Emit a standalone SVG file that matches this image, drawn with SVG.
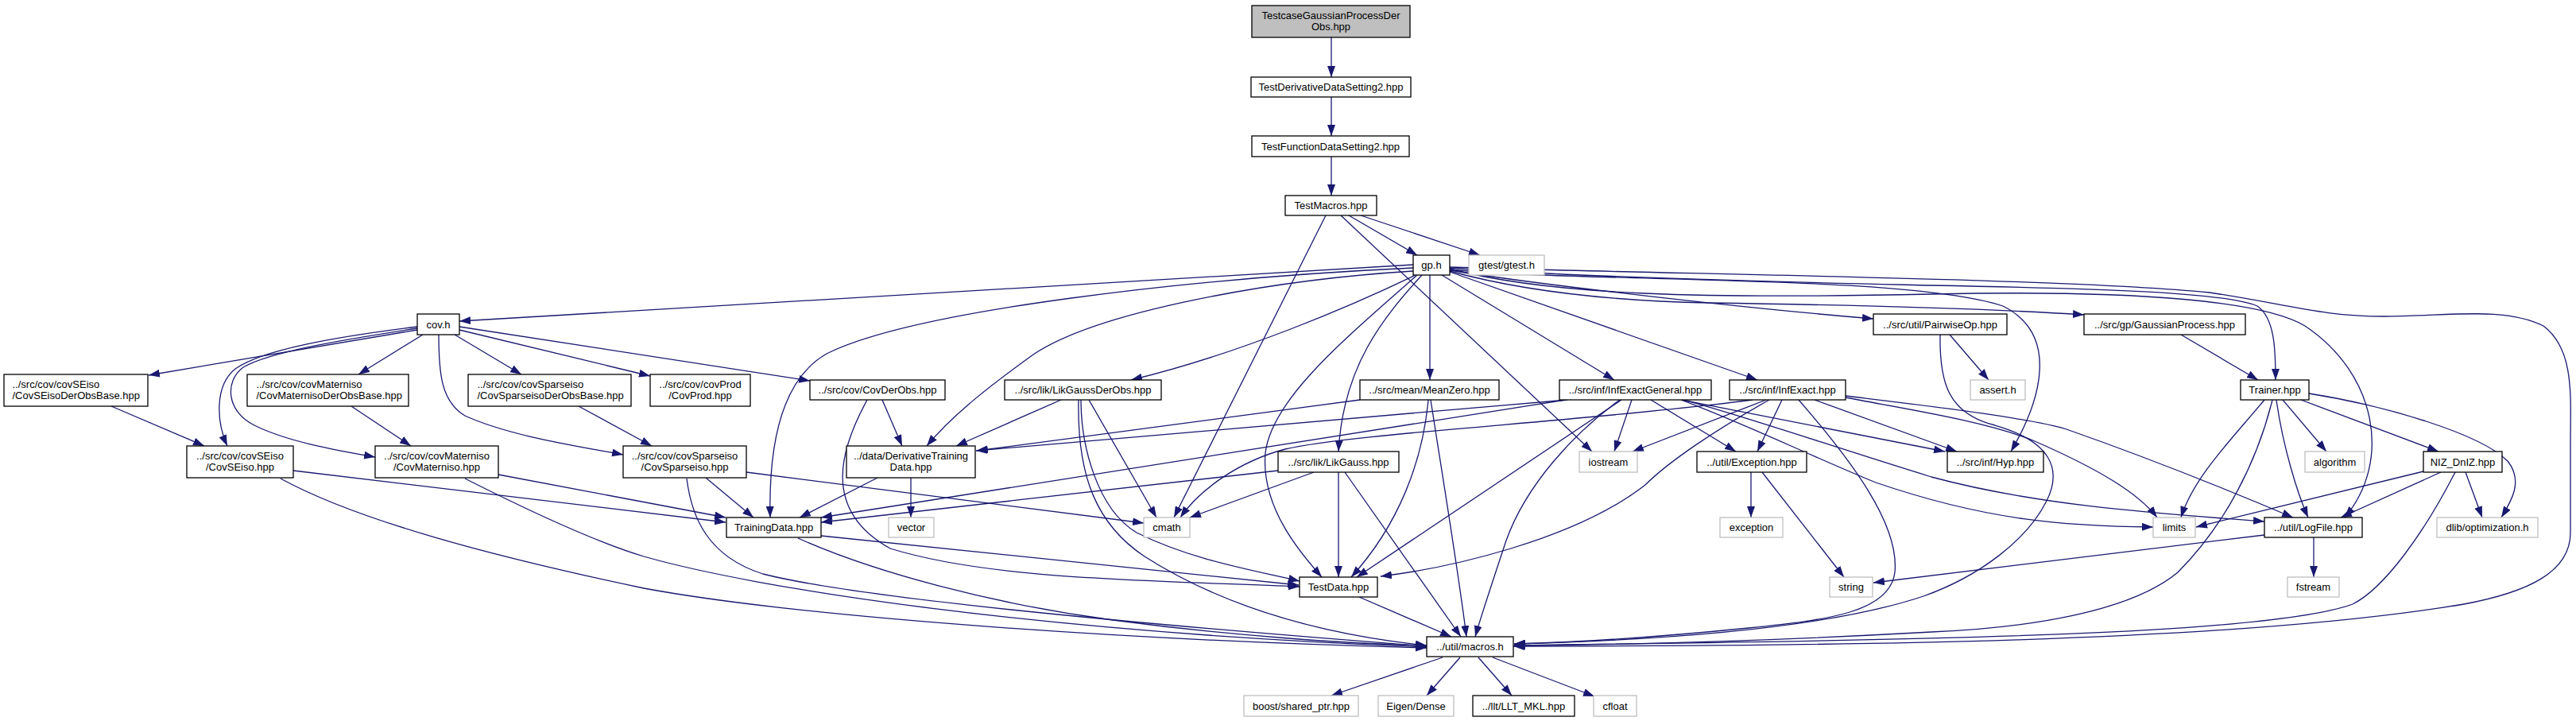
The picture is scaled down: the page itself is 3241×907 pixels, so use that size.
<svg xmlns="http://www.w3.org/2000/svg" width="3241" height="907" viewBox="0 0 3241 907">
<style>
.n rect{fill:#fff;stroke:#000;stroke-width:1.3}
.x rect{fill:#fff;stroke:#bfbfbf;stroke-width:1.3}
#n0 rect{fill:#bfbfbf}
text{font-family:"Liberation Sans",Arial,Helvetica,sans-serif;font-size:13px;fill:#000}
.c{text-anchor:middle}
#edges path{fill:none;stroke:#191970;stroke-width:1.3;marker-end:url(#a)}
</style>
<defs>
<marker id="a" viewBox="0 0 14 10" refX="14" refY="5" markerWidth="14" markerHeight="10" markerUnits="userSpaceOnUse" orient="auto"><path d="M0,0 L14,5 L0,10 z" fill="#191970"/></marker>
</defs>
<rect width="3241" height="907" fill="#fff"/>
<g id="edges">
<path d="M1675,47 L1675,97"/>
<path d="M1675,122 L1675,171"/>
<path d="M1675,197 L1675,246"/>
<path d="M1697,271 L1783,321"/>
<path d="M1712,271 L1862,321"/>
<path d="M1668,271 L1477,651"/>
<path d="M1687,271 L2003,568"/>
<path d="M1778,333 L578,404"/>
<path d="M1778,337 C1500,350 1150,390 1040,445 C982,478 967,560 969,651"/>
<path d="M1778,341 C1600,352 1380,392 1300,446 C1250,482 1200,520 1166,561"/>
<path d="M1781,346 C1700,385 1560,445 1423,478"/>
<path d="M1783,346 C1700,420 1600,500 1592,570 C1586,640 1640,700 1663,726"/>
<path d="M1789,346 C1740,400 1690,460 1684,568"/>
<path d="M1799,346 L1799,478"/>
<path d="M1814,346 L2031,478"/>
<path d="M1824,342 L2211,478"/>
<path d="M1824,340 C1950,360 2200,388 2357,401"/>
<path d="M1824,341 C1900,362 2000,378 2150,381 C2350,384 2500,388 2622,396"/>
<path d="M1824,339 C2000,356 2400,345 2520,385 C2590,420 2570,500 2530,568"/>
<path d="M1824,338 C1950,372 2150,376 2430,370 C2700,364 2850,380 2900,410 C2990,470 3010,580 2950,651"/>
<path d="M1824,337 C2000,350 2300,356 2430,359 C2650,363 2800,368 2840,385 C2862,400 2863,440 2863,478"/>
<path d="M1824,336 C2100,345 2600,350 2780,368 C2880,383 2920,398 3000,398 C3080,398 3150,385 3200,410 C3240,440 3234,500 3234,560 L3234,670 C3234,720 3180,745 3100,760 C2800,810 2300,812 1904,813"/>
<path d="M525,415 L187,472"/>
<path d="M532,421 L451,471"/>
<path d="M572,421 L656,471"/>
<path d="M578,415 L818,473"/>
<path d="M578,411 L1019,479"/>
<path d="M525,411 C420,424 330,440 296,464 C270,485 272,530 286,561"/>
<path d="M525,413 C440,426 340,442 306,462 C282,480 285,518 320,535 C360,555 420,566 472,575"/>
<path d="M552,421 C552,470 555,505 585,523 C640,548 720,560 784,572"/>
<path d="M140,511 L257,561"/>
<path d="M442,511 L517,561"/>
<path d="M728,511 L820,561"/>
<path d="M369,592 L913,657"/>
<path d="M353,602 C450,655 620,700 810,740 C1000,775 1400,805 1795,815"/>
<path d="M627,597 L913,651"/>
<path d="M585,602 C680,650 760,685 810,700 C950,740 1300,795 1795,814"/>
<path d="M888,601 L948,651"/>
<path d="M939,594 L1439,658"/>
<path d="M864,602 C870,650 890,700 960,722 C1050,745 1300,775 1795,813"/>
<path d="M1104,601 L1006,651"/>
<path d="M1146,601 L1146,651"/>
<path d="M1110,503 L1135,561"/>
<path d="M1091,503 C1060,560 1030,640 1120,690 C1250,730 1450,730 1635,738"/>
<path d="M1335,503 L1203,561"/>
<path d="M1370,503 L1455,651"/>
<path d="M1360,503 C1360,560 1380,640 1430,670 C1500,705 1580,718 1635,731"/>
<path d="M1357,503 C1355,600 1380,660 1440,700 C1550,770 1680,800 1795,812"/>
<path d="M1711,503 L1229,567"/>
<path d="M1797,503 C1790,580 1760,660 1700,726"/>
<path d="M1800,503 C1815,600 1835,720 1845,801"/>
<path d="M1684,594 L1684,726"/>
<path d="M1692,594 L1838,801"/>
<path d="M1653,594 L1497,651"/>
<path d="M1608,592 L1033,657"/>
<path d="M1972,503 L1228,567"/>
<path d="M1970,503 L1033,651"/>
<path d="M2040,503 L1707,726"/>
<path d="M2038,503 C1980,545 1920,610 1895,680 C1875,740 1862,780 1856,801"/>
<path d="M2053,503 L2031,568"/>
<path d="M2077,503 L2184,568"/>
<path d="M2115,503 L2447,568"/>
<path d="M2118,503 C2200,525 2300,560 2430,600 C2560,635 2700,645 2849,656"/>
<path d="M2115,503 C2200,535 2270,570 2360,607 C2500,655 2600,662 2709,663"/>
<path d="M2222,503 L2054,568"/>
<path d="M2242,503 L2211,568"/>
<path d="M2226,503 C2160,540 2100,580 2070,610 C1980,680 1820,715 1737,725"/>
<path d="M2263,503 C2330,580 2390,660 2384,720 C2378,770 2300,780 2200,790 C2100,800 1990,808 1905,810"/>
<path d="M2205,503 C2000,530 1700,545 1617,565 C1560,580 1510,615 1485,651"/>
<path d="M2283,503 L2462,568"/>
<path d="M2322,500 C2400,515 2500,530 2560,555 C2640,590 2690,620 2714,651"/>
<path d="M2322,498 C2420,510 2550,525 2600,540 C2700,575 2800,615 2885,651"/>
<path d="M2203,594 L2203,651"/>
<path d="M2217,594 L2320,726"/>
<path d="M2453,421 L2502,478"/>
<path d="M2441,421 C2440,480 2450,520 2510,535 C2580,555 2595,590 2575,630 C2550,680 2490,725 2420,750 C2300,790 2100,805 1905,810"/>
<path d="M2744,421 L2841,478"/>
<path d="M2849,503 C2810,550 2760,600 2744,651"/>
<path d="M2859,503 C2840,580 2800,660 2740,720 C2680,770 2550,790 2430,795 C2250,805 2050,811 1905,812"/>
<path d="M2864,503 C2872,560 2890,620 2904,651"/>
<path d="M2872,503 L2927,568"/>
<path d="M2895,503 L3068,568"/>
<path d="M2905,495 C3000,510 3120,545 3155,580 C3175,605 3160,630 3147,651"/>
<path d="M3049,593 L2763,663"/>
<path d="M3071,594 L2945,651"/>
<path d="M3089,594 C3050,670 3000,740 2960,760 C2850,800 2400,805 1905,812"/>
<path d="M3102,594 L3123,651"/>
<path d="M2911,676 L2911,726"/>
<path d="M2849,673 L2357,733"/>
<path d="M1710,751 L1826,801"/>
<path d="M1033,674 L1634,736"/>
<path d="M1004,677 C1100,720 1250,760 1400,780 C1550,800 1700,810 1795,812"/>
<path d="M1815,827 L1675,875"/>
<path d="M1837,827 L1795,875"/>
<path d="M1860,827 L1902,875"/>
<path d="M1878,827 L2006,876"/>
</g>
<g id="n0" class="n"><rect x="1575" y="7" width="199" height="40"/><text class="c" x="1674.5" y="23.5">TestcaseGaussianProcessDer</text><text class="c" x="1674.5" y="38">Obs.hpp</text></g>
<g id="n1" class="n"><rect x="1574" y="97" width="201" height="25"/><text class="c" x="1674.5" y="114">TestDerivativeDataSetting2.hpp</text></g>
<g id="n2" class="n"><rect x="1575" y="171" width="198" height="26"/><text class="c" x="1674" y="188.5">TestFunctionDataSetting2.hpp</text></g>
<g id="n3" class="n"><rect x="1617" y="246" width="115" height="25"/><text class="c" x="1674.5" y="263">TestMacros.hpp</text></g>
<g id="n4" class="n"><rect x="1778" y="321" width="46" height="25"/><text class="c" x="1801" y="338">gp.h</text></g>
<g id="n5" class="x"><rect x="1848" y="321" width="95" height="25"/><text class="c" x="1895.5" y="338">gtest/gtest.h</text></g>
<g id="n6" class="n"><rect x="525" y="395" width="53" height="26"/><text class="c" x="551.5" y="412.5">cov.h</text></g>
<g id="n7" class="n"><rect x="2357" y="395" width="168" height="26"/><text class="c" x="2441" y="412.5">../src/util/PairwiseOp.hpp</text></g>
<g id="n8" class="n"><rect x="2622" y="395" width="203" height="26"/><text class="c" x="2723.5" y="412.5">../src/gp/GaussianProcess.hpp</text></g>
<g id="n9" class="n"><rect x="5" y="471" width="181" height="40"/><text x="15.5" y="487.5">../src/cov/covSEiso</text><text x="15.5" y="502">/CovSEisoDerObsBase.hpp</text></g>
<g id="n10" class="n"><rect x="311" y="471" width="203" height="40"/><text x="322.5" y="487.5">../src/cov/covMaterniso</text><text x="322.5" y="502">/CovMaternisoDerObsBase.hpp</text></g>
<g id="n11" class="n"><rect x="589" y="471" width="205" height="40"/><text x="600.5" y="487.5">../src/cov/covSparseiso</text><text x="600.5" y="502">/CovSparseisoDerObsBase.hpp</text></g>
<g id="n12" class="n"><rect x="818" y="471" width="126" height="40"/><text class="c" x="881" y="487.5">../src/cov/covProd</text><text class="c" x="881" y="502">/CovProd.hpp</text></g>
<g id="n13" class="n"><rect x="1019" y="478" width="170" height="25"/><text class="c" x="1104" y="495">../src/cov/CovDerObs.hpp</text></g>
<g id="n14" class="n"><rect x="1264" y="478" width="197" height="25"/><text class="c" x="1362.5" y="495">../src/lik/LikGaussDerObs.hpp</text></g>
<g id="n15" class="n"><rect x="1711" y="478" width="175" height="25"/><text class="c" x="1798.5" y="495">../src/mean/MeanZero.hpp</text></g>
<g id="n16" class="n"><rect x="1962" y="478" width="191" height="25"/><text class="c" x="2057.5" y="495">../src/inf/InfExactGeneral.hpp</text></g>
<g id="n17" class="n"><rect x="2176" y="478" width="146" height="25"/><text class="c" x="2249" y="495">../src/inf/InfExact.hpp</text></g>
<g id="n18" class="x"><rect x="2479" y="478" width="69" height="25"/><text class="c" x="2513.5" y="495">assert.h</text></g>
<g id="n19" class="n"><rect x="2819" y="478" width="86" height="25"/><text class="c" x="2862" y="495">Trainer.hpp</text></g>
<g id="n20" class="n"><rect x="235" y="561" width="134" height="40"/><text class="c" x="302" y="577.5">../src/cov/covSEiso</text><text class="c" x="302" y="592">/CovSEiso.hpp</text></g>
<g id="n21" class="n"><rect x="472" y="561" width="155" height="40"/><text class="c" x="549.5" y="577.5">../src/cov/covMaterniso</text><text class="c" x="549.5" y="592">/CovMaterniso.hpp</text></g>
<g id="n22" class="n"><rect x="784" y="561" width="155" height="40"/><text class="c" x="861.5" y="577.5">../src/cov/covSparseiso</text><text class="c" x="861.5" y="592">/CovSparseiso.hpp</text></g>
<g id="n23" class="n"><rect x="1065" y="561" width="162" height="40"/><text class="c" x="1146" y="577.5">../data/DerivativeTraining</text><text class="c" x="1146" y="592">Data.hpp</text></g>
<g id="n24" class="n"><rect x="1608" y="568" width="152" height="26"/><text class="c" x="1684" y="585.5">../src/lik/LikGauss.hpp</text></g>
<g id="n25" class="x"><rect x="1987" y="568" width="73" height="26"/><text class="c" x="2023.5" y="585.5">iostream</text></g>
<g id="n26" class="n"><rect x="2135" y="568" width="138" height="26"/><text class="c" x="2204" y="585.5">../util/Exception.hpp</text></g>
<g id="n27" class="n"><rect x="2450" y="568" width="121" height="26"/><text class="c" x="2510.5" y="585.5">../src/inf/Hyp.hpp</text></g>
<g id="n28" class="x"><rect x="2900" y="568" width="75" height="26"/><text class="c" x="2937.5" y="585.5">algorithm</text></g>
<g id="n29" class="n"><rect x="3049" y="568" width="99" height="26"/><text class="c" x="3098.5" y="585.5">NIZ_DnIZ.hpp</text></g>
<g id="n30" class="n"><rect x="914" y="651" width="119" height="25"/><text class="c" x="973.5" y="668">TrainingData.hpp</text></g>
<g id="n31" class="x"><rect x="1118" y="651" width="57" height="25"/><text class="c" x="1146.5" y="668">vector</text></g>
<g id="n32" class="x"><rect x="1439" y="651" width="58" height="25"/><text class="c" x="1468" y="668">cmath</text></g>
<g id="n33" class="x"><rect x="2164" y="651" width="79" height="25"/><text class="c" x="2203.5" y="668">exception</text></g>
<g id="n34" class="x"><rect x="2709" y="651" width="53" height="25"/><text class="c" x="2735.5" y="668">limits</text></g>
<g id="n35" class="n"><rect x="2849" y="651" width="123" height="25"/><text class="c" x="2910.5" y="668">../util/LogFile.hpp</text></g>
<g id="n36" class="x"><rect x="3066" y="651" width="127" height="25"/><text class="c" x="3129.5" y="668">dlib/optimization.h</text></g>
<g id="n37" class="n"><rect x="1635" y="726" width="98" height="25"/><text class="c" x="1684" y="743">TestData.hpp</text></g>
<g id="n38" class="x"><rect x="2302" y="726" width="54" height="25"/><text class="c" x="2329" y="743">string</text></g>
<g id="n39" class="x"><rect x="2878" y="726" width="65" height="25"/><text class="c" x="2910.5" y="743">fstream</text></g>
<g id="n40" class="n"><rect x="1795" y="801" width="109" height="25"/><text class="c" x="1849.5" y="818">../util/macros.h</text></g>
<g id="n41" class="x"><rect x="1565" y="875" width="144" height="26"/><text class="c" x="1637" y="892.5">boost/shared_ptr.hpp</text></g>
<g id="n42" class="x"><rect x="1734" y="875" width="95" height="26"/><text class="c" x="1781.5" y="892.5">Eigen/Dense</text></g>
<g id="n43" class="n"><rect x="1853" y="875" width="128" height="26"/><text class="c" x="1917" y="892.5">../llt/LLT_MKL.hpp</text></g>
<g id="n44" class="x"><rect x="2005" y="875" width="54" height="26"/><text class="c" x="2032" y="892.5">cfloat</text></g>
</svg>
